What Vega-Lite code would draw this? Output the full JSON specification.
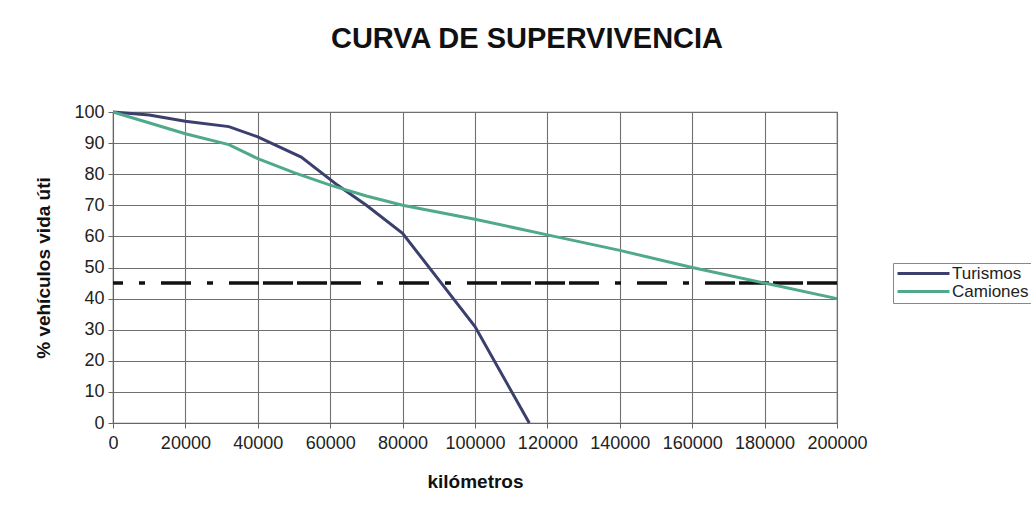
{
  "$schema": "https://vega.github.io/schema/vega-lite/v6.json",
  "autosize": {"type": "none"},
  "width": 724,
  "height": 311,
  "padding": {"left": 113, "top": 112, "right": 194, "bottom": 88},
  "background": "white",
  "title": {
    "text": "CURVA DE SUPERVIVENCIA",
    "font": "Liberation Sans",
    "fontSize": 29,
    "fontWeight": "bold",
    "color": "#111111",
    "anchor": "middle",
    "dx": 52,
    "offset": 49
  },
  "config": {
    "view": {"stroke": "#6a6a6a", "strokeWidth": 1.2},
    "axis": {
      "labelFont": "Liberation Sans",
      "labelFontSize": 18,
      "labelColor": "#222222",
      "titleFont": "Liberation Sans",
      "titleFontSize": 19,
      "titleFontWeight": "bold",
      "titleColor": "#111111",
      "gridColor": "#707070",
      "gridOpacity": 1,
      "gridWidth": 1.1,
      "domainColor": "#666666",
      "tickColor": "#666666",
      "tickSize": 5
    },
    "legend": {
      "labelFont": "Liberation Sans",
      "labelFontSize": 17,
      "labelColor": "#222222"
    }
  },
  "datasets": {
    "curves": [
      {"km": 0, "pct": 100, "serie": "Turismos"},
      {"km": 10000, "pct": 99, "serie": "Turismos"},
      {"km": 20000, "pct": 97, "serie": "Turismos"},
      {"km": 32000, "pct": 95.3, "serie": "Turismos"},
      {"km": 40000, "pct": 92, "serie": "Turismos"},
      {"km": 52000, "pct": 85.5, "serie": "Turismos"},
      {"km": 62000, "pct": 76.5, "serie": "Turismos"},
      {"km": 70000, "pct": 70, "serie": "Turismos"},
      {"km": 80000, "pct": 61, "serie": "Turismos"},
      {"km": 90000, "pct": 46, "serie": "Turismos"},
      {"km": 100000, "pct": 31, "serie": "Turismos"},
      {"km": 115000, "pct": 0, "serie": "Turismos"},
      {"km": 0, "pct": 100, "serie": "Camiones"},
      {"km": 20000, "pct": 93, "serie": "Camiones"},
      {"km": 32000, "pct": 89.5, "serie": "Camiones"},
      {"km": 40000, "pct": 85, "serie": "Camiones"},
      {"km": 50000, "pct": 80.5, "serie": "Camiones"},
      {"km": 60000, "pct": 76.5, "serie": "Camiones"},
      {"km": 70000, "pct": 73, "serie": "Camiones"},
      {"km": 80000, "pct": 70, "serie": "Camiones"},
      {"km": 100000, "pct": 65.5, "serie": "Camiones"},
      {"km": 120000, "pct": 60.5, "serie": "Camiones"},
      {"km": 140000, "pct": 55.5, "serie": "Camiones"},
      {"km": 160000, "pct": 50, "serie": "Camiones"},
      {"km": 180000, "pct": 45, "serie": "Camiones"},
      {"km": 200000, "pct": 40, "serie": "Camiones"}
    ],
    "threshold": [{"pct": 45}]
  },
  "layer": [
    {
      "data": {"name": "threshold"},
      "mark": {"type": "rule", "color": "#111111", "strokeWidth": 3.5, "strokeDash": [30, 4, 30, 4, 30, 4, 30, 16, 6, 16, 30, 16, 6, 16]},
      "encoding": {
        "y": {
          "field": "pct",
          "type": "quantitative",
          "scale": {"domain": [0, 100], "nice": false},
          "axis": {
            "title": "% vehículos vida úti",
            "values": [0, 10, 20, 30, 40, 50, 60, 70, 80, 90, 100],
            "labelPadding": 4,
            "titlePadding": 20,
            "labelFlush": false,
            "labelOverlap": false
          }
        }
      }
    },
    {
      "data": {"name": "curves"},
      "mark": {"type": "line", "strokeWidth": 3},
      "encoding": {
        "x": {
          "field": "km",
          "type": "quantitative",
          "scale": {"domain": [0, 200000], "nice": false, "zero": true},
          "axis": {
            "title": "kilómetros",
            "values": [0, 20000, 40000, 60000, 80000, 100000, 120000, 140000, 160000, 180000, 200000],
            "format": "d",
            "labelPadding": 6,
            "titlePadding": 20,
            "labelFlush": false,
            "labelOverlap": false
          }
        },
        "y": {
          "field": "pct",
          "type": "quantitative",
          "scale": {"domain": [0, 100], "nice": false},
          "axis": {
            "title": "% vehículos vida úti",
            "values": [0, 10, 20, 30, 40, 50, 60, 70, 80, 90, 100],
            "labelPadding": 4,
            "titlePadding": 20,
            "labelFlush": false,
            "labelOverlap": false
          }
        },
        "color": {
          "field": "serie",
          "type": "nominal",
          "scale": {"domain": ["Turismos", "Camiones"], "range": ["#3b3f6e", "#4fa98a"]},
          "legend": {
            "title": null,
            "orient": "none",
            "legendX": 780,
            "legendY": 151,
            "symbolType": "stroke",
            "symbolSize": 2700,
            "symbolStrokeWidth": 3,
            "clipHeight": 15,
            "labelOffset": 1,
            "rowPadding": 0,
            "padding": 3,
            "strokeColor": "#888888",
            "fillColor": "white"
          }
        }
      }
    }
  ]
}
